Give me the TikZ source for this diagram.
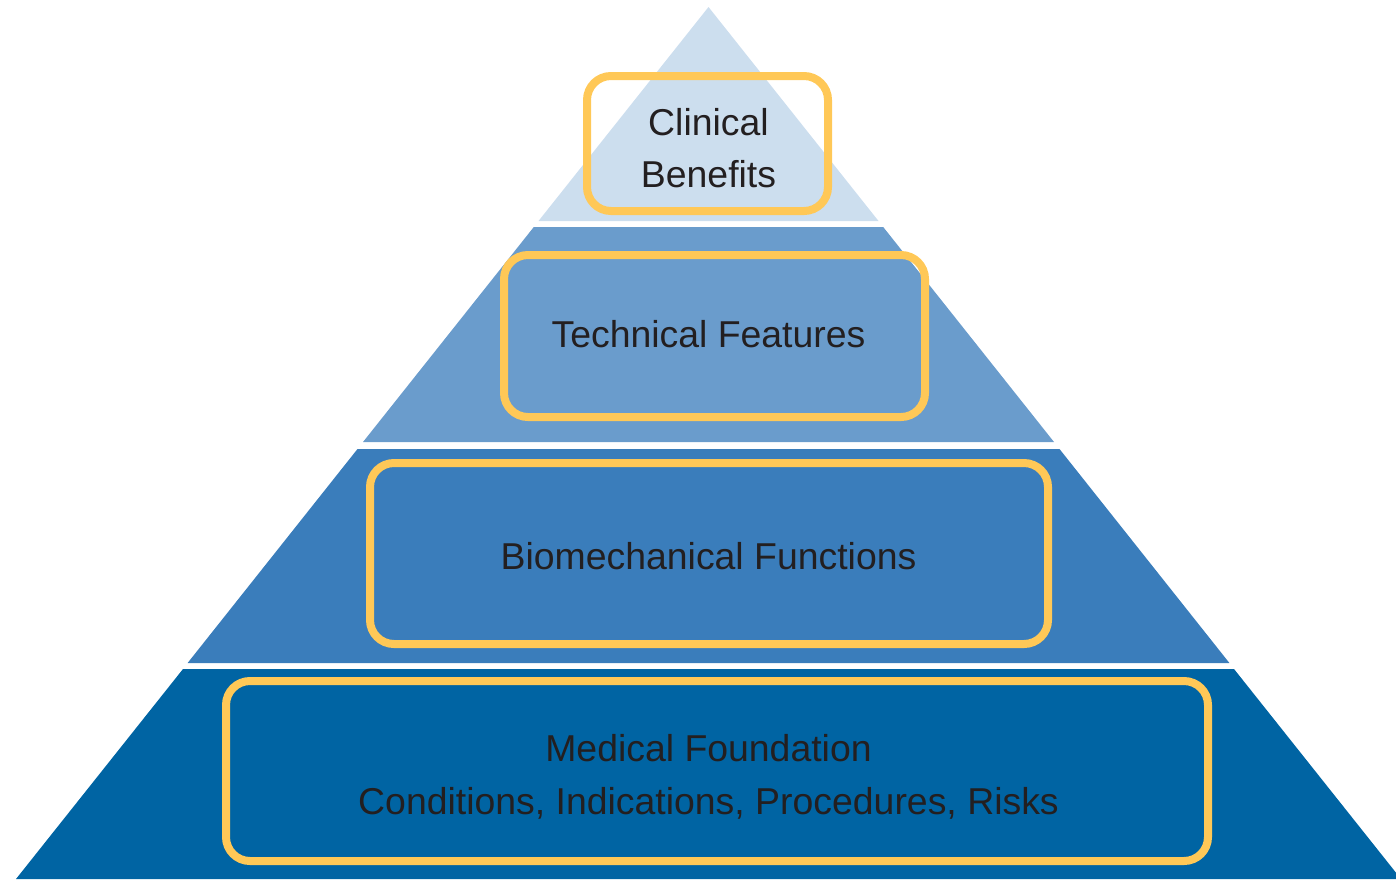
\documentclass[tikz,border=0pt]{standalone}
\usepackage{fontspec}
\setmainfont{Liberation Sans}
\definecolor{layerone}{RGB}{204, 222, 238}
\definecolor{layertwo}{RGB}{106, 156, 204}
\definecolor{layerthree}{RGB}{58, 125, 187}
\definecolor{layerfour}{RGB}{0, 100, 163}
\definecolor{framecolor}{RGB}{255, 200, 87}
\definecolor{textcolor}{RGB}{35, 31, 32}
\usetikzlibrary{
  calc,
  positioning,
}
\tikzset{
  frame/.style={draw=framecolor, line width=4pt, rounded corners=12pt,
    inner sep=0pt, outer sep=0pt},
  label/.style={text=textcolor, align=center,
    font=\fontsize{18.7}{26.2}\selectfont},
}

\begin{document}
\begin{tikzpicture}[x=0.5pt, y=-0.5pt]
      \useasboundingbox (0,0) rectangle (1396,879);
      % pyramid layers, top to bottom
      \fill [layerone] (708.5,7) -- (878.5,221) -- (538.5,221) -- cycle;
      \fill [layertwo] (533.8,227) -- (883.2,227) -- (1054,442)
            -- (363,442) -- cycle;
      \fill [layerthree] (357.5,449) -- (1059.5,449) -- (1229.4,663)
            -- (187.6,663) -- cycle;
      \begin{scope}
        \clip (0,0) rectangle (1396,879);
        \fill [layerfour] (183,669) -- (1234,669) -- (1401,879)
              -- (16,879) -- cycle;
      \end{scope}
      % framed boxes
      \node [frame, minimum width=120.5pt, minimum height=67.5pt]
            at (707.5,143.5) (benefitsbox) {};
      \node [frame, minimum width=210.5pt, minimum height=81pt]
            at (714.5,336) (featuresbox) {};
      \node [frame, minimum width=339pt, minimum height=90.5pt]
            at (709,553.5) (functionsbox) {};
      \node [frame, minimum width=491pt, minimum height=90pt]
            at (717,771) (foundationbox) {};
      % labels
      \node [label] at (708.5,148) (benefits) {Clinical\\Benefits};
      \node [label] at (708.5,334) (features) {Technical Features};
      \node [label] at (708.5,556) (functions) {Biomechanical Functions};
      \node [label] at (708.5,777) (foundation)
            {Medical Foundation\\Conditions, Indications, Procedures, Risks};
    \end{tikzpicture}
\end{document}
